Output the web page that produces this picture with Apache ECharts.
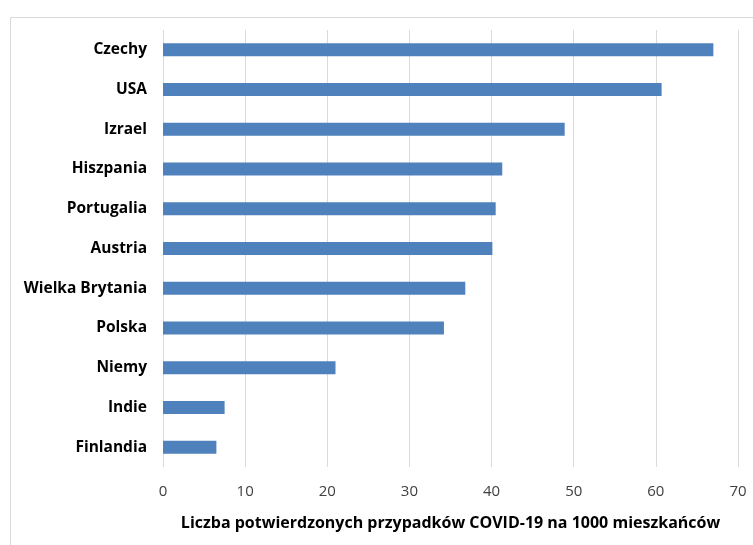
<!DOCTYPE html>
<html>
<head>
<meta charset="utf-8">
<script src="https://cdn.jsdelivr.net/npm/echarts@6/dist/echarts.min.js"></script>
<style>
  html, body { margin: 0; padding: 0; background: #fff; }
  #chart { width: 753px; height: 545px; }
</style>
</head>
<body>
<div id="chart"></div>
<script>
// Countries, listed top to bottom
const countries = ['Czechy', 'USA', 'Izrael', 'Hiszpania', 'Portugalia', 'Austria',
  'Wielka Brytania', 'Polska', 'Niemy', 'Indie', 'Finlandia'];
// Confirmed COVID-19 cases per 1000 inhabitants
const casesPer1000 = [67.0, 60.7, 48.9, 41.3, 40.5, 40.1, 36.8, 34.2, 21.0, 7.5, 6.5];
const xTicks = [0, 10, 20, 30, 40, 50, 60, 70];
const xTitle = 'Liczba potwierdzonych przypadków COVID-19 na 1000 mieszkańców';

const fontFamily = '"Open Sans", "Liberation Sans", sans-serif';
const chart = echarts.init(document.getElementById('chart'), null, { renderer: 'canvas' });

chart.setOption({
  backgroundColor: '#ffffff',
  animation: false,
  graphic: [{
    type: 'rect',
    shape: { x: 10.5, y: 17.5, width: 760, height: 540 },
    style: { fill: 'none', stroke: '#d9d9d9', lineWidth: 1 },
    silent: true
  }],
  grid: { left: 163, right: 15, top: 30, bottom: 78 },
  xAxis: {
    type: 'value',
    min: xTicks[0],
    max: xTicks[xTicks.length - 1],
    interval: 10,
    name: xTitle,
    nameLocation: 'middle',
    nameGap: 48,
    nameTextStyle: { fontFamily, fontSize: 16, fontWeight: 'bold', color: '#000' },
    axisLine: { show: false },
    axisTick: { show: false },
    axisLabel: { fontFamily, fontSize: 15, color: '#404040', margin: 17 },
    splitLine: { show: true, lineStyle: { color: '#d9d9d9', width: 1 } }
  },
  yAxis: {
    type: 'category',
    data: countries,
    inverse: true,
    axisLine: { show: false },
    axisTick: { show: false },
    axisLabel: { fontFamily, fontSize: 15.5, fontWeight: 'bold', color: '#000', margin: 16 }
  },
  series: [{
    type: 'bar',
    data: casesPer1000,
    barWidth: 13,
    itemStyle: { color: '#4f81bd' }
  }]
});
</script>
</body>
</html>
